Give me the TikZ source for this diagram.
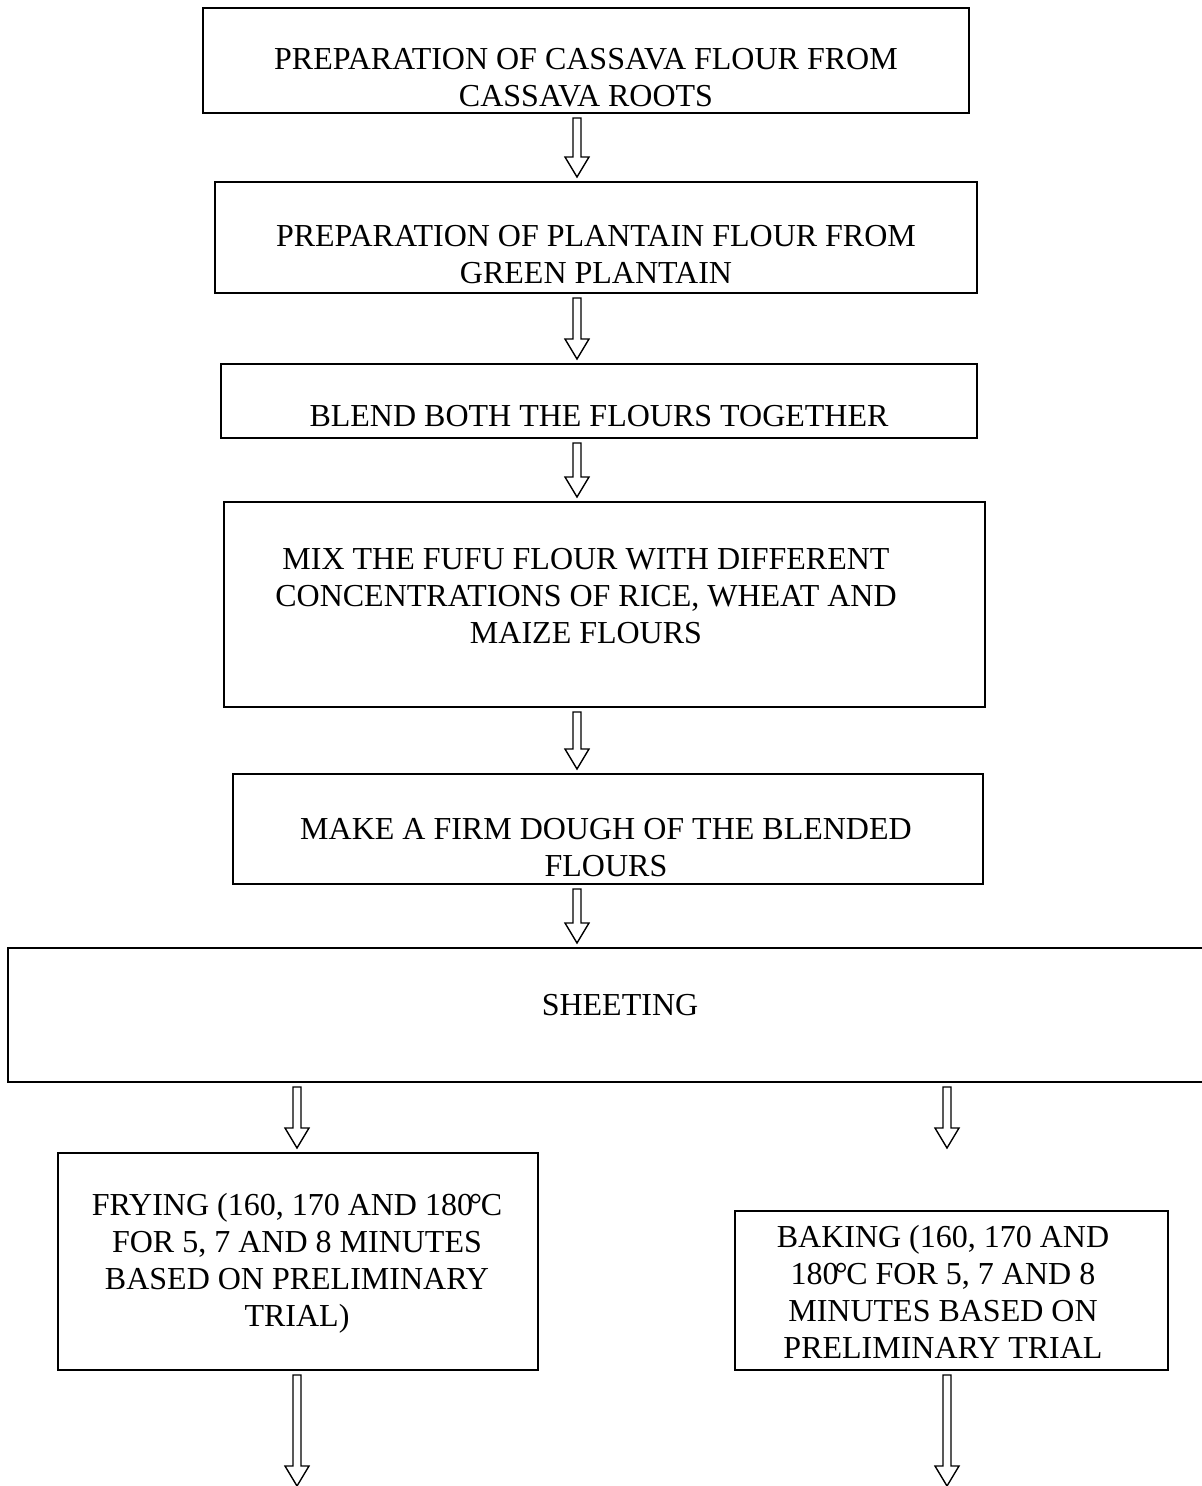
\documentclass[tikz,border=0pt]{standalone}
\usepackage{fontspec}
\setmainfont{Liberation Serif}
\usepackage{tikz}
\usetikzlibrary{calc}

\begin{document}
\begin{tikzpicture}[
  x=0.5pt, y=-0.5pt,
  box/.style={draw, line width=1pt, inner sep=0pt},
  txt/.style={align=center, inner sep=0pt, font=\fontsize{16}{18.5}\selectfont},
  hollow/.style={line width=0.7pt, to path={
    let \p1=(\tikztostart), \p2=(\tikztotarget) in
    (\x1-2pt,\y1-2pt) -- (\x1-2pt,\y2+12pt) -- (\x1-6pt,\y2+12pt) -- (\x1,\y2+2pt)
    -- (\x1+6pt,\y2+12pt) -- (\x1+2pt,\y2+12pt) -- (\x1+2pt,\y1-2pt) -- cycle}}
]
\useasboundingbox (0,0) rectangle (1202,1486);
% boxes
\node[box, minimum width=383pt, minimum height=52.5pt]  (prepcas)  at (586, 60.5)  {};
\node[box, minimum width=381pt, minimum height=55.5pt]  (prepplan) at (596, 237.5) {};
\node[box, minimum width=378pt, minimum height=37pt]    (blend)    at (599, 401)   {};
\node[box, minimum width=380.5pt, minimum height=102.5pt] (mix)    at (604.5, 604.5) {};
\node[box, minimum width=375pt, minimum height=55pt]    (dough)    at (608, 829)   {};
\node[box, minimum width=599pt, minimum height=67pt]    (sheet)    at (607, 1015)  {};
\node[box, minimum width=240pt, minimum height=108.5pt] (fry)      at (298, 1261.5) {};
\node[box, minimum width=216.5pt, minimum height=79.5pt] (bake)    at (951.5, 1290.5) {};
% texts
\node[txt] (prepcastxt)  at (586, 77.5)  {PREPARATION OF CASSAVA FLOUR FROM\\CASSAVA ROOTS};
\node[txt] (prepplantxt) at (596, 254.5) {PREPARATION OF PLANTAIN FLOUR FROM\\GREEN PLANTAIN};
\node[txt] (blendtxt)    at (599, 416)   {BLEND BOTH THE FLOURS TOGETHER};
\node[txt] (mixtxt)      at (586, 596)   {MIX THE FUFU FLOUR WITH DIFFERENT\\CONCENTRATIONS OF RICE, WHEAT AND\\MAIZE FLOURS};
\node[txt] (doughtxt)    at (606, 848)   {MAKE A FIRM DOUGH OF THE BLENDED\\FLOURS};
\node[txt] (sheettxt)    at (620, 1005)  {SHEETING};
\node[txt] (frytxt)      at (297, 1263)  {FRYING (160, 170 AND 180\kern-0.12em\textdegree\kern-0.04em C\\FOR 5, 7 AND 8 MINUTES\\BASED ON PRELIMINARY\\TRIAL)};
\node[txt] (baketxt)     at (943, 1292)  {BAKING (160, 170 AND\\180\kern-0.12em\textdegree\kern-0.04em C FOR 5, 7 AND 8\\MINUTES BASED ON\\PRELIMINARY TRIAL};
% arrows
\coordinate (mid)   at (577, 0);
\coordinate (left)  at (297, 0);
\coordinate (right) at (947, 0);
\coordinate (fryend)  at (297, 1490);
\coordinate (bakeend) at (947, 1490);
\draw[hollow] (prepcas.south -| mid)  to (prepplan.north -| mid);
\draw[hollow] (prepplan.south -| mid) to (blend.north -| mid);
\draw[hollow] (blend.south -| mid)    to (mix.north -| mid);
\draw[hollow] (mix.south -| mid)      to (dough.north -| mid);
\draw[hollow] (dough.south -| mid)    to (sheet.north -| mid);
\draw[hollow] (sheet.south -| left)   to (fry.north -| left);
\draw[hollow] (sheet.south -| right)  to (fry.north -| right);
\draw[hollow] (fry.south -| left)     to (fryend);
\draw[hollow] (bake.south -| right)   to (bakeend);
\end{tikzpicture}
\end{document}
